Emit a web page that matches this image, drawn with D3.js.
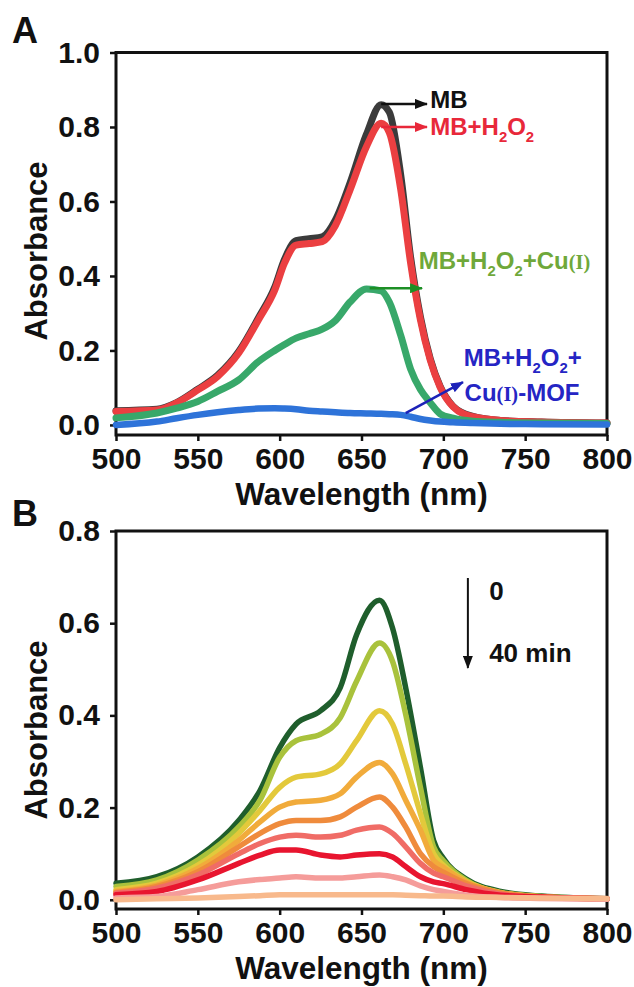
<!DOCTYPE html>
<html>
<head>
<meta charset="utf-8">
<script src="https://cdn.jsdelivr.net/npm/d3@7"></script>
<style>
body { margin:0; background:#fff; }
text { font-family:"Liberation Sans", Arial, sans-serif; font-weight:bold; fill:#111; }
</style>
</head>
<body>
<svg id="fig" width="634" height="987"></svg>
<script>
/* panel A : spectra of MB under different conditions */
var wavelengthA = [500,525,537,550,562,575,587,597,603,610,618,626,634,643,653,662,667,674,680,686,692,698,706,718,735,760,800];
var mbA       = [0.038,0.042,0.060,0.096,0.133,0.197,0.287,0.370,0.445,0.495,0.500,0.505,0.550,0.650,0.780,0.860,0.840,0.670,0.450,0.290,0.178,0.104,0.050,0.023,0.012,0.008,0.005];
var mbH2O2A   = [0.036,0.040,0.059,0.094,0.130,0.193,0.282,0.362,0.435,0.483,0.487,0.492,0.535,0.631,0.747,0.810,0.785,0.631,0.435,0.282,0.174,0.102,0.049,0.022,0.012,0.008,0.005];
var mbCuA     = [0.019,0.032,0.045,0.063,0.090,0.121,0.170,0.200,0.216,0.233,0.245,0.257,0.280,0.330,0.365,0.360,0.330,0.240,0.150,0.095,0.060,0.030,0.018,0.010,0.007,0.005,0.004];
var mbMofA    = [0.000,0.009,0.018,0.027,0.034,0.040,0.044,0.045,0.044,0.042,0.038,0.036,0.034,0.032,0.031,0.030,0.029,0.027,0.022,0.016,0.012,0.009,0.007,0.005,0.003,0.002,0.001];

/* panel B : degradation with time, 0 to 40 min */
var wavelengthB = [500,525,550,575,588,600,610,625,637,647,661,669,677,686,694,700,714,735,760,800];
var t1 = [0.036,0.050,0.093,0.172,0.237,0.330,0.381,0.410,0.460,0.575,0.650,0.589,0.460,0.287,0.129,0.090,0.045,0.018,0.008,0.002];
var t2 = [0.029,0.043,0.086,0.158,0.216,0.309,0.345,0.359,0.395,0.474,0.557,0.517,0.402,0.244,0.115,0.085,0.042,0.016,0.007,0.002];
var t3 = [0.022,0.036,0.075,0.144,0.194,0.244,0.266,0.273,0.295,0.345,0.410,0.381,0.295,0.187,0.100,0.075,0.040,0.015,0.006,0.002];
var t4 = [0.018,0.032,0.068,0.129,0.169,0.201,0.212,0.216,0.230,0.266,0.298,0.273,0.216,0.151,0.086,0.070,0.038,0.015,0.006,0.002];
var t5 = [0.016,0.029,0.061,0.115,0.144,0.165,0.172,0.172,0.180,0.201,0.223,0.201,0.158,0.100,0.072,0.060,0.035,0.015,0.006,0.002];
var t6 = [0.014,0.025,0.054,0.100,0.122,0.136,0.140,0.136,0.140,0.151,0.158,0.144,0.115,0.079,0.058,0.050,0.030,0.012,0.005,0.002];
var t7 = [0.011,0.018,0.043,0.079,0.097,0.108,0.108,0.097,0.093,0.097,0.100,0.093,0.072,0.050,0.039,0.035,0.022,0.010,0.006,0.002];
var t8 = [0.004,0.007,0.022,0.039,0.044,0.047,0.050,0.047,0.047,0.050,0.054,0.050,0.043,0.030,0.022,0.018,0.010,0.005,0.003,0.001];
var t9 = [0.000,0.002,0.004,0.007,0.009,0.011,0.011,0.011,0.011,0.011,0.011,0.011,0.010,0.009,0.008,0.008,0.006,0.005,0.004,0.003];
var colorsB = ["#1f5e2c","#a9c23c","#e3c93b","#f1ab3b","#ef8b3c","#f06c66","#e8152f","#f59c9a","#f8b98c"];

var xTicks = [500,550,600,650,700,750,800];
var xMinor = [525,575,625,675,725,775];

var svg = d3.select("#fig");

/* makes an arrow head marker of a colour */
var makeMarker = function(id, color)
{
    svg.append("defs")
        .append("marker")
        .attr("id", id)
        .attr("markerUnits","userSpaceOnUse")
        .attr("markerWidth",13).attr("markerHeight",10)
        .attr("refX",12).attr("refY",5)
        .attr("orient","auto")
        .append("path")
        .attr("d","M0,0 L13,5 L0,10 Z")
        .attr("fill", color);
}

/* frame, ticks, labels of one panel */
var drawAxes = function(xScale, yScale, yTicks, yMinor, titleY)
{
    var left = xScale.range()[0], right = xScale.range()[1];
    var bottom = yScale.range()[0], top = yScale.range()[1];

    var gx = svg.append("g").attr("transform","translate(0,"+bottom+")");
    gx.call(d3.axisBottom(xScale).tickValues(xMinor).tickSize(4).tickSizeOuter(0).tickFormat(""));
    gx.call(d3.axisBottom(xScale).tickValues(xTicks).tickSize(6).tickSizeOuter(0).tickPadding(7).tickFormat(d3.format("d")));
    var gy = svg.append("g").attr("transform","translate("+left+",0)");
    gy.call(d3.axisLeft(yScale).tickValues(yMinor).tickSize(4).tickSizeOuter(0).tickFormat(""));
    gy.call(d3.axisLeft(yScale).tickValues(yTicks).tickSize(6).tickSizeOuter(0).tickPadding(10).tickFormat(d3.format(".1f")));

    svg.selectAll(".domain").remove();
    svg.selectAll(".tick line").attr("stroke","#111").attr("stroke-width",2.5);
    svg.selectAll(".tick text").attr("font-size",30).attr("fill","#111")
        .attr("font-family","Liberation Sans, Arial, sans-serif").attr("font-weight","bold");

    svg.append("rect")
        .attr("x",left).attr("y",top)
        .attr("width",right-left).attr("height",bottom-top)
        .attr("fill","none").attr("stroke","#111").attr("stroke-width",3);

    svg.append("text")
        .attr("x",(left+right)/2).attr("y",bottom+70)
        .attr("text-anchor","middle").attr("font-size",31.5)
        .text("Wavelength (nm)");
    svg.append("text")
        .attr("transform","translate(47,"+titleY+") rotate(-90)")
        .attr("text-anchor","middle").attr("font-size",31)
        .text("Absorbance");
}

var drawLine = function(g, xs, ys, xScale, yScale, color, width)
{
    var line = d3.line()
        .x(function(d){ return xScale(d[0]); })
        .y(function(d){ return yScale(d[1]); })
        .curve(d3.curveMonotoneX);
    g.append("path")
        .datum(d3.zip(xs, ys))
        .attr("d", line)
        .attr("fill","none")
        .attr("stroke",color)
        .attr("stroke-width",width)
        .attr("stroke-linejoin","round")
        .attr("stroke-linecap","round");
}

/* text with H2O2 style subscripts, parts = [[text,kind],...] */
var addLabel = function(x, y, parts, color, size)
{
    var t = svg.append("text").attr("x",x).attr("y",y).attr("font-size",size);
    parts.forEach(function(p)
    {
        var s = t.append("tspan").text(p[0]).style("fill",color);
        if (p[1] == "sub")
        {
            s.attr("font-size",size*0.62).attr("dy",7);
        }
        else if (p[1] == "up")
        {
            s.attr("dy",-7);
        }
        else if (p[1] == "roman")
        {
            s.attr("font-family","Liberation Serif, Times New Roman, serif").attr("font-size",size*0.85);
        }
    });
    return t;
}

var arrow = function(x1, y1, x2, y2, color, id, width)
{
    svg.append("line")
        .attr("x1",x1).attr("y1",y1).attr("x2",x2).attr("y2",y2)
        .attr("stroke",color).attr("stroke-width",width)
        .attr("marker-end","url(#"+id+")");
}

makeMarker("arBlack","#111");
makeMarker("arRed","#e8283a");
makeMarker("arGreen","#1d8f25");
makeMarker("arBlue","#1c22b8");

/* ---------- panel A ---------- */
var xA = d3.scaleLinear().domain([500,800]).range([116,607]);
var yA = d3.scaleLinear().domain([-0.027,1.0]).range([435,52.5]);
drawAxes(xA, yA, [0,0.2,0.4,0.6,0.8,1.0], [0.1,0.3,0.5,0.7,0.9], 251);

var gA = svg.append("g");
drawLine(gA, wavelengthA, mbA, xA, yA, "#3b3b3b", 7);
drawLine(gA, wavelengthA, mbH2O2A, xA, yA, "#eb3f41", 7);
drawLine(gA, wavelengthA, mbCuA, xA, yA, "#38a86a", 7);
drawLine(gA, wavelengthA, mbMofA, xA, yA, "#2e73d9", 6.5);

arrow(xA(662), yA(0.862), xA(690), yA(0.862), "#111", "arBlack", 2.5);
addLabel(xA(692), yA(0.862)+4, [["MB",""]], "#111", 24);
arrow(xA(662), yA(0.80), xA(690), yA(0.80), "#e8283a", "arRed", 2.5);
addLabel(xA(692), yA(0.80)+8, [["MB+H",""],["2","sub"],["O","up"],["2","sub"]], "#e8283a", 24);

arrow(xA(655), yA(0.367), xA(687), yA(0.367), "#1d8f25", "arGreen", 2.5);
addLabel(xA(685), yA(0.44)+8, [["MB+H",""],["2","sub"],["O","up"],["2","sub"],["+Cu","up"],["(I)","roman"]], "#6fa83a", 24);

arrow(xA(677), yA(0.032), xA(712), yA(0.115), "#1c22b8", "arBlue", 2.5);
addLabel(xA(712.5), yA(0.18)+8, [["MB+H",""],["2","sub"],["O","up"],["2","sub"],["+","up"]], "#2525c4", 24);
addLabel(xA(713), yA(0.085)+8, [["Cu",""],["(I)","roman"],["-MOF",""]], "#2525c4", 24);

svg.append("text").attr("x",12).attr("y",43).attr("font-size",36).text("A");

/* ---------- panel B ---------- */
var xB = d3.scaleLinear().domain([500,800]).range([116,607]);
var yB = d3.scaleLinear().domain([-0.02,0.8]).range([909,531]);
drawAxes(xB, yB, [0,0.2,0.4,0.6,0.8], [0.1,0.3,0.5,0.7], 730);

var gB = svg.append("g");
var seriesB = [t1,t2,t3,t4,t5,t6,t7,t8,t9];
seriesB.forEach(function(s, i)
{
    drawLine(gB, wavelengthB, s, xB, yB, colorsB[i], 5.5);
});

arrow(xB(715), yB(0.698), xB(715), yB(0.503), "#111", "arBlack", 2);
svg.append("text").attr("x",xB(728)).attr("y",yB(0.67)+9).attr("font-size",26).text("0");
svg.append("text").attr("x",xB(728)).attr("y",yB(0.535)+9).attr("font-size",26).text("40 min");

svg.append("text").attr("x",12).attr("y",526).attr("font-size",36).text("B");
</script>
</body>
</html>
